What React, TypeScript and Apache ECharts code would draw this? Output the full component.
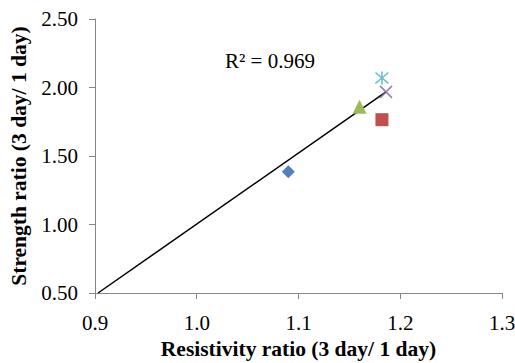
import React, { useEffect, useRef } from "react";
import * as echarts from "echarts";

const xTicks = [0.9, 1.0, 1.1, 1.2, 1.3];
const yTicks = [0.5, 1.0, 1.5, 2.0, 2.5];
const seriesNames = ["S1", "S2", "S3", "S4", "S5"];
const xValues = [1.09, 1.182, 1.16, 1.186, 1.182];
const yValues = [1.385, 1.765, 1.86, 1.968, 2.07];
const colors = ["#4F81BD", "#C0504D", "#9BBB59", "#8064A2", "#4BACC6"];
const trendX = [0.903, 1.186];
const trendY = [0.5, 1.968];
const rSquaredText = "R² = 0.969";
const xTitle = "Resistivity ratio (3 day/ 1 day)";
const yTitle = "Strength ratio (3 day/ 1 day)";

const FONT = "Liberation Serif";

const symbols = [
  "diamond",
  "rect",
  "triangle",
  "path://M0 0 L10 10 M10 0 L0 10",
  "path://M0 0 L10 10 M10 0 L0 10 M5 -1 L5 11",
];
const sizes = [13, 13, 14, 12, 13];

export default function App() {
  const ref = useRef<HTMLDivElement>(null);
  useEffect(() => {
    document.body.style.margin = "0";
    if (!ref.current) return;
    const chart = echarts.init(ref.current, undefined, { renderer: "svg" });
    const pointSeries = seriesNames.map((name, i) => {
      const stroked = i >= 3;
      return {
        name,
        type: "scatter",
        data: [[xValues[i], yValues[i]]],
        symbol: symbols[i],
        symbolSize: sizes[i],
        z: 3,
        itemStyle: stroked
          ? { color: "rgba(0,0,0,0)", borderColor: colors[i], borderWidth: 1.6 }
          : { color: colors[i], opacity: 1 },
      };
    });
    chart.setOption({
      animation: false,
      textStyle: { fontFamily: FONT },
      grid: {
        left: 95,
        right: 13,
        top: 19,
        bottom: 70,
        containLabel: false,
        outerBoundsMode: "none",
      },
      xAxis: {
        type: "value",
        min: xTicks[0],
        max: xTicks[xTicks.length - 1],
        interval: 0.1,
        axisLine: { show: true, lineStyle: { color: "#868686", width: 1 } },
        axisTick: { show: true, length: 6, lineStyle: { color: "#868686" } },
        splitLine: { show: false },
        axisLabel: {
          margin: 19,
          fontFamily: FONT,
          fontSize: 21,
          color: "#000",
          formatter: (v: number) => v.toFixed(1),
        },
        name: xTitle,
        nameLocation: "middle",
        nameGap: 43,
        nameTextStyle: { fontFamily: FONT, fontSize: 21.5, fontWeight: "bold", color: "#000" },
      },
      yAxis: {
        type: "value",
        min: yTicks[0],
        max: yTicks[yTicks.length - 1],
        interval: 0.5,
        axisLine: { show: true, lineStyle: { color: "#868686", width: 1 } },
        axisTick: { show: true, length: 6, lineStyle: { color: "#868686" } },
        splitLine: { show: false },
        axisLabel: {
          margin: 17,
          fontFamily: FONT,
          fontSize: 21,
          color: "#000",
          formatter: (v: number) => v.toFixed(2),
        },
        name: yTitle,
        nameLocation: "middle",
        nameGap: 63,
        nameTextStyle: { fontFamily: FONT, fontSize: 21.5, fontWeight: "bold", color: "#000" },
      },
      series: [
        {
          name: "Trend",
          type: "line",
          data: trendX.map((x, i) => [x, trendY[i]]),
          showSymbol: false,
          symbol: "none",
          lineStyle: { color: "#000", width: 1.5 },
          z: 2,
        },
        ...pointSeries,
      ],
      graphic: [
        {
          type: "text",
          left: 225,
          top: 50,
          style: { text: rSquaredText, fontFamily: FONT, fontSize: 21, fill: "#000" },
        },
      ],
    });
    return () => chart.dispose();
  }, []);
  return <div ref={ref} style={{ width: 515, height: 363 }} />;
}
